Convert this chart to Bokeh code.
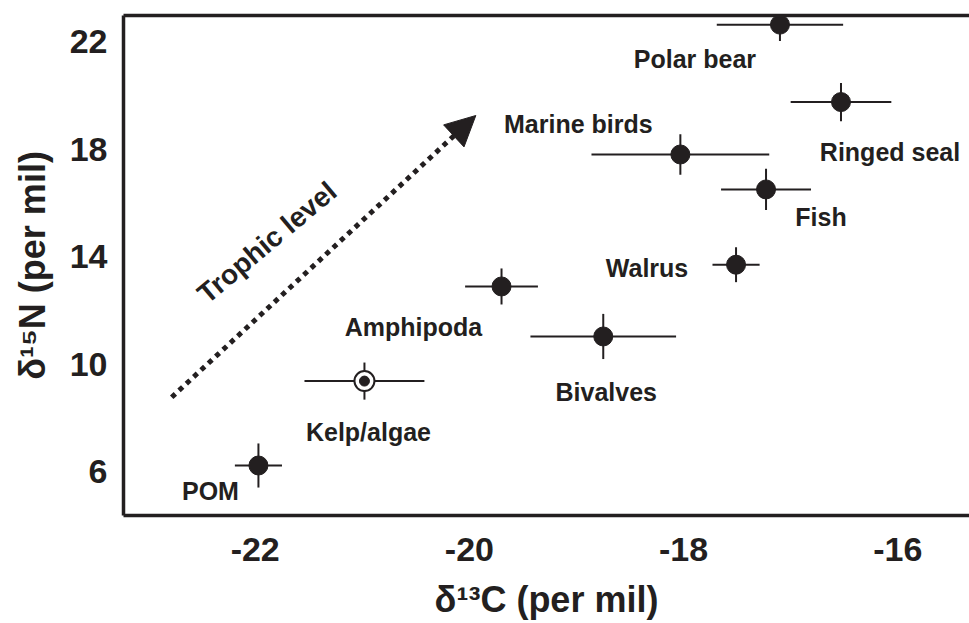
from bokeh.plotting import figure
from bokeh.models import (Range1d, FixedTicker, LinearAxis, Arrow, NormalHead,
                          ColumnDataSource, PrintfTickFormatter)
from bokeh.core.properties import value
from bokeh.embed import file_html
from bokeh.resources import INLINE

# ---- data ----
species = ["Polar bear", "Ringed seal", "Marine birds", "Fish", "Walrus",
           "Amphipoda", "Bivalves", "Kelp/algae", "POM"]
d13c = [-17.10, -16.53, -18.03, -17.23, -17.51, -19.70, -18.75, -20.98, -21.97]
d15n = [22.63, 19.75, 17.80, 16.50, 13.70, 12.89, 11.03, 9.37, 6.23]
d13c_err = [0.59, 0.47, 0.83, 0.42, 0.22, 0.34, 0.68, 0.56, 0.22]
d15n_err = [0.61, 0.71, 0.75, 0.77, 0.65, 0.67, 0.84, 0.69, 0.82]
is_producer = [False, False, False, False, False, False, False, True, False]

x_ticks = [-22, -20, -18, -16]
y_ticks = [6, 10, 14, 18, 22]

arrow_start = (-22.78, 8.77)
arrow_end = (-19.94, 19.25)
arrow_label = "Trophic level"
arrow_label_pos = (-21.89, 14.53)

# label placement: pixel offsets from each point (right, down)
label_dx = [-85, 49, -102, 55, -89, -88, 3, 4, -48]
label_dy = [34, 50, -30, 28, 3, 41, 56, 51, 25]

INK = "#231f20"
FONT = "Liberation Sans"

p = figure(width=969, height=623, output_backend="svg", toolbar_location=None,
           x_range=Range1d(-23.23, -15.33), y_range=Range1d(4.37, 22.97),
           min_border_left=123, min_border_right=0, min_border_top=15,
           min_border_bottom=108)
p.outline_line_color = None
p.grid.visible = False
p.background_fill_color = "white"
p.border_fill_color = "white"

for ax in (p.xaxis[0], p.yaxis[0]):
    ax.axis_line_width = 3.5
    ax.axis_line_color = INK
    ax.major_tick_out = 0
    ax.major_tick_in = 0
    ax.minor_tick_out = 0
    ax.minor_tick_in = 0
    ax.major_label_text_font = FONT
    ax.major_label_text_font_style = "bold"
    ax.major_label_text_font_size = "34px"
    ax.major_label_text_color = INK
    ax.axis_label_text_font = FONT
    ax.axis_label_text_font_style = "bold"
    ax.axis_label_text_font_size = "36px"
    ax.axis_label_text_color = INK
    ax.formatter = PrintfTickFormatter(format="%d")

p.xaxis.ticker = FixedTicker(ticks=x_ticks)
p.yaxis.ticker = FixedTicker(ticks=y_ticks)
p.xaxis.axis_label = "δ¹³C (per mil)"
p.yaxis.axis_label = "δ¹⁵N (per mil)"
p.xaxis.major_label_standoff = 22
p.xaxis.axis_label_standoff = 15
p.yaxis.major_label_standoff = 16
p.yaxis.axis_label_standoff = 14

top = LinearAxis(ticker=FixedTicker(ticks=[]), axis_line_width=3.5, axis_line_color=INK,
                 major_tick_out=0, major_tick_in=0, minor_tick_out=0, minor_tick_in=0,
                 major_label_text_font_size="0px", major_label_standoff=0)
p.add_layout(top, "above")

# ---- error bars ----
src = ColumnDataSource(dict(
    x=d13c, y=d15n,
    x0=[x - e for x, e in zip(d13c, d13c_err)],
    x1=[x + e for x, e in zip(d13c, d13c_err)],
    y0=[y - e for y, e in zip(d15n, d15n_err)],
    y1=[y + e for y, e in zip(d15n, d15n_err)],
    name=species, dx=label_dx, dy=label_dy,
))
p.segment(x0="x0", y0="y", x1="x1", y1="y", source=src, line_color=INK, line_width=2)
p.segment(x0="x", y0="y0", x1="x", y1="y1", source=src, line_color=INK, line_width=2)

# ---- markers ----
cons_x = [x for x, f in zip(d13c, is_producer) if not f]
cons_y = [y for y, f in zip(d15n, is_producer) if not f]
prod_x = [x for x, f in zip(d13c, is_producer) if f]
prod_y = [y for y, f in zip(d15n, is_producer) if f]
p.scatter(cons_x, cons_y, size=19, fill_color=INK, line_color=INK)
p.scatter(prod_x, prod_y, size=20, fill_color="white", line_color=INK, line_width=2)
p.scatter(prod_x, prod_y, size=10, fill_color=INK, line_color=INK)

# ---- labels ----
p.text(x="x", y="y", text="name", source=src, x_offset="dx", y_offset="dy",
       text_align="center", text_baseline="middle",
       text_font=value(FONT), text_font_style="bold", text_font_size="25px",
       text_color=INK)

# ---- trophic arrow ----
p.add_layout(Arrow(x_start=arrow_start[0], y_start=arrow_start[1],
                   x_end=arrow_end[0], y_end=arrow_end[1],
                   line_width=5, line_dash="5 5", line_color=INK,
                   end=NormalHead(size=30, fill_color=INK, line_color=INK, line_width=1)))
p.text(x=[arrow_label_pos[0]], y=[arrow_label_pos[1]], text=[arrow_label],
       angle=40, angle_units="deg", text_align="center", text_baseline="middle",
       text_font=value(FONT), text_font_style="bold", text_font_size="28px",
       text_color=INK)

open("out.html", "w").write(file_html(p, INLINE))
